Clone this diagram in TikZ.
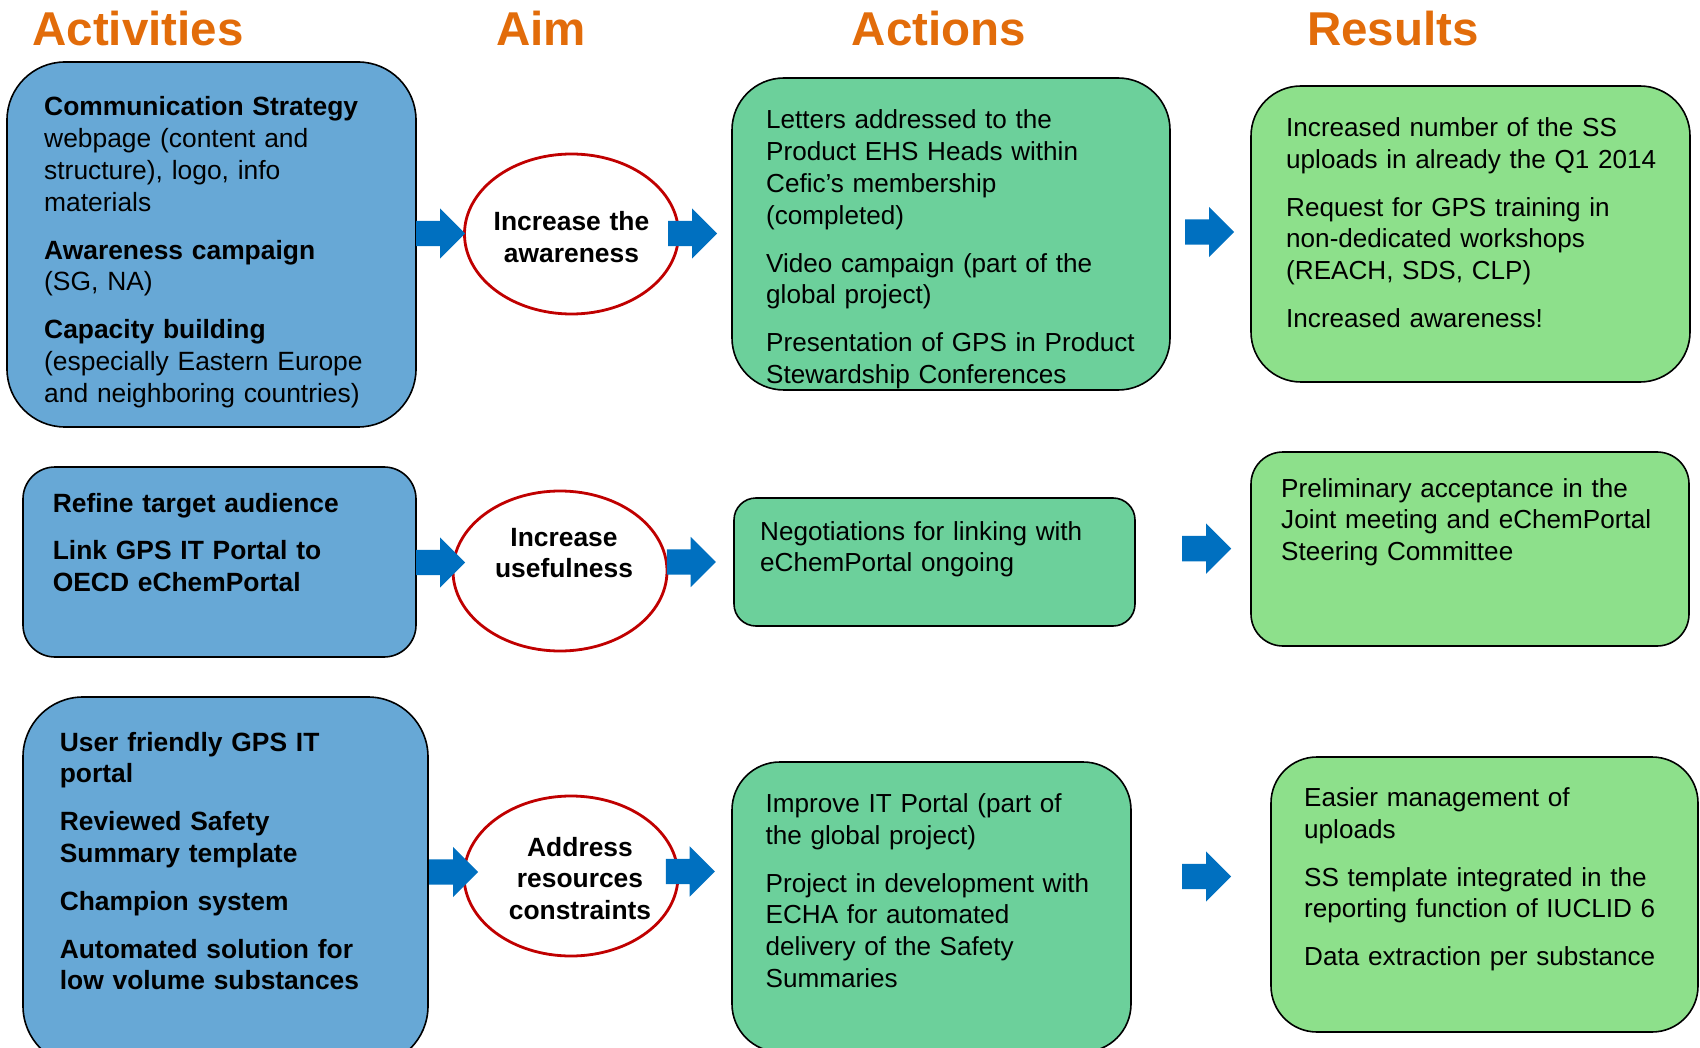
\documentclass[tikz,border=0pt]{standalone}
\usepackage{fontspec}
\setmainfont{Liberation Sans}
\usetikzlibrary{shapes}
\definecolor{titleOrange}{RGB}{226,108,10}
\definecolor{actvBlue}{RGB}{103,168,214}
\definecolor{actnGreen}{RGB}{108,208,155}
\definecolor{resGreen}{RGB}{141,224,139}
\definecolor{aimRed}{RGB}{192,0,0}
\definecolor{arrowBlue}{RGB}{0,112,192}

\begin{document}
\begin{tikzpicture}[x=1pt,y=-1pt]
\tikzset{myFont/.style={font=\fontsize{26.1}{31.8}\selectfont}}
\tikzset{myBold/.style={font=\fontsize{26.4}{31.8}\selectfont\bfseries}}
\tikzset{myTitle/.style={font=\fontsize{47.5}{50}\selectfont\bfseries,text=titleOrange,anchor=base,inner sep=0pt}}
\tikzset{myBox/.style={draw=black,line width=1.6pt,inner sep=0pt}}
\tikzset{myText/.style={myFont,inner sep=0pt,text width=430pt,align=left,anchor=base west}}
\tikzset{myAim/.style={ellipse,draw=aimRed,line width=2.8pt,fill=white,inner sep=0pt,minimum width=214pt,minimum height=160pt}}
\tikzset{myAimText/.style={myBold,inner sep=0pt,text width=240pt,align=center,anchor=base}}
\tikzset{myArrow/.style={single arrow,fill=arrowBlue,draw=none,inner xsep=0pt,inner ysep=12.5pt,single arrow head extend=12.5pt,single arrow tip angle=90,minimum height=49pt,anchor=tail}}

\useasboundingbox (0,0) rectangle (1700,1048);

% column titles
\node[myTitle] (ttlActv) at (138,45.5) {Activities};
\node[myTitle] (ttlAim) at (541,45.5) {Aim};
\node[myTitle] (ttlActn) at (939,45.5) {Actions};
\node[myTitle] (ttlRes) at (1393,45.5) {Results};

% boxes
\node[myBox,fill=actvBlue,rounded corners=58pt,minimum width=409pt,minimum height=365pt] (actv1) at (211.5,244.5) {};
\node[myBox,fill=actnGreen,rounded corners=52pt,minimum width=438pt,minimum height=312pt] (actn1) at (951,234) {};
\node[myBox,fill=resGreen,rounded corners=50pt,minimum width=439pt,minimum height=296pt] (res1) at (1470.5,234) {};

\node[myBox,fill=actvBlue,rounded corners=32pt,minimum width=393pt,minimum height=190pt] (actv2) at (219.5,562) {};
\node[myBox,fill=actnGreen,rounded corners=22pt,minimum width=401pt,minimum height=128pt] (actn2) at (934.5,562) {};
\node[myBox,fill=resGreen,rounded corners=32pt,minimum width=438pt,minimum height=194pt] (res2) at (1470,549) {};

\node[myBox,fill=actvBlue,rounded corners=60pt,minimum width=405pt,minimum height=369pt] (actv3) at (225.5,881.5) {};
\node[myBox,fill=actnGreen,rounded corners=48pt,minimum width=399pt,minimum height=290pt] (actn3) at (931.5,907) {};
\node[myBox,fill=resGreen,rounded corners=46pt,minimum width=427pt,minimum height=275pt] (res3) at (1484.5,894.5) {};

% aims
\node[myAim] (aim1) at (571.5,234) {};
\node[myAim] (aim2) at (560,571) {};
\node[myAim] (aim3) at (571,876) {};
\node[myAimText] (aim1txt) at (571.5,231) {Increase the\\awareness};
\node[myAimText] (aim2txt) at (564,546) {Increase\\usefulness};
\node[myAimText] (aim3txt) at (580,856) {Address\\resources\\constraints};

% texts
\node[myText,myBold] (actv1txt) at (44,116) {Communication Strategy\\\mdseries webpage (content and\\structure), logo, info\\materials\\[16pt]\bfseries Awareness campaign\\\mdseries (SG, NA)\\[16pt]\bfseries Capacity building\\\mdseries (especially Eastern Europe\\and neighboring countries)};
\node[myText] (actn1txt) at (766,129) {Letters addressed to the\\Product EHS Heads within\\Cefic’s membership\\(completed)\\[16pt]Video campaign (part of the\\global project)\\[16pt]Presentation of GPS in Product\\Stewardship Conferences};
\node[myText] (res1txt) at (1286,136.5) {Increased number of the SS\\uploads in already the Q1 2014\\[16pt]Request for GPS training in\\non-dedicated workshops\\(REACH, SDS, CLP)\\[16pt]Increased awareness!};

\node[myText,myBold] (actv2txt) at (52.6,512) {Refine target audience\\[16pt]Link GPS IT Portal to\\OECD eChemPortal};
\node[myText] (actn2txt) at (760,540) {Negotiations for linking with\\eChemPortal ongoing};
\node[myText] (res2txt) at (1281,497) {Preliminary acceptance in the\\Joint meeting and eChemPortal\\Steering Committee};

\node[myText,myBold] (actv3txt) at (59.6,751) {User friendly GPS IT\\portal\\[16pt]Reviewed Safety\\Summary template\\[16pt]Champion system\\[16pt]Automated solution for\\low volume substances};
\node[myText] (actn3txt) at (765.5,812.5) {Improve IT Portal (part of\\the global project)\\[16pt]Project in development with\\ECHA for automated\\delivery of the Safety\\Summaries};
\node[myText] (res3txt) at (1304,806.5) {Easier management of\\uploads\\[16pt]SS template integrated in the\\reporting function of IUCLID 6\\[16pt]Data extraction per substance};

% block arrows
\node[myArrow] (arr1a) at (416,233.5) {};
\node[myArrow] (arr1b) at (668,233.5) {};
\node[myArrow] (arr1c) at (1185,232) {};
\node[myArrow] (arr2a) at (416,562.5) {};
\node[myArrow] (arr2b) at (666.7,562) {};
\node[myArrow] (arr2c) at (1182,548.6) {};
\node[myArrow] (arr3a) at (429,872) {};
\node[myArrow] (arr3b) at (665.6,871.5) {};
\node[myArrow] (arr3c) at (1182,876.5) {};
\end{tikzpicture}
\end{document}
